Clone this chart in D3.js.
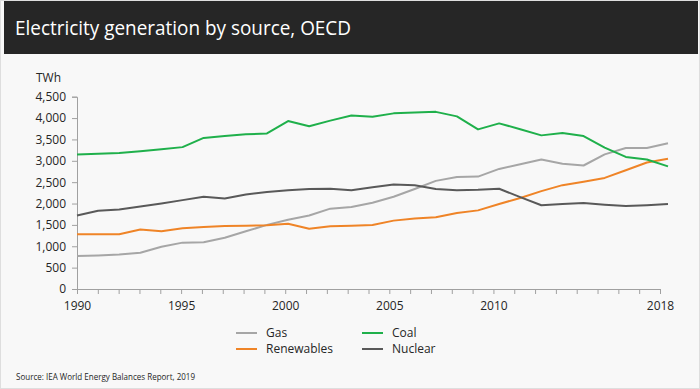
<!DOCTYPE html>
<html>
<head>
<meta charset="utf-8">
<script src="https://cdn.jsdelivr.net/npm/d3@7"></script>
<style>
  html, body { margin: 0; padding: 0; background: #f8f8f8; }
  svg { display: block; font-family: "Open Sans", "Noto Sans", sans-serif; }
</style>
</head>
<body>
<div id="chart"></div>
<script>
const years = d3.range(1990, 2019);
const gas = [770, 785, 805, 850, 990, 1085, 1095, 1200, 1350, 1500, 1620, 1720, 1880, 1920, 2020, 2160, 2340, 2530, 2620, 2630, 2810, 2920, 3030, 2930, 2890, 3150, 3300, 3300, 3410];
const renewables = [1280, 1280, 1280, 1390, 1350, 1420, 1450, 1475, 1480, 1490, 1525, 1410, 1470, 1480, 1500, 1600, 1650, 1680, 1780, 1840, 1990, 2130, 2290, 2430, 2510, 2600, 2780, 2960, 3050];
const coal = [3150, 3165, 3185, 3225, 3270, 3320, 3535, 3580, 3620, 3640, 3930, 3810, 3940, 4060, 4030, 4110, 4130, 4145, 4040, 3735, 3875, 3740, 3595, 3650, 3580, 3310, 3090, 3030, 2870];
const nuclear = [1720, 1830, 1860, 1930, 2000, 2080, 2160, 2120, 2210, 2270, 2310, 2340, 2345, 2310, 2380, 2445, 2430, 2340, 2310, 2320, 2345, 2150, 1960, 1990, 2010, 1970, 1940, 1960, 1990];

const seriesNames = ["Gas", "Renewables", "Coal", "Nuclear"];
const seriesValues = [gas, renewables, coal, nuclear];
const seriesColors = ["#a6a6a6", "#ef8427", "#1fb04b", "#595959"];

const yTicks = d3.range(0, 4501, 500);
const xLabelYears = [1990, 1995, 2000, 2005, 2010, 2018];

const title = "Electricity generation by source, OECD";
const unitLabel = "TWh";
const source = "Source: IEA World Energy Balances Report, 2019";

const width = 700;
const height = 389;

const svg = d3.select("#chart").append("svg")
    .attr("width", width)
    .attr("height", height);

// background + frame
svg.append("rect")
    .attr("x", 0.5).attr("y", 0.5)
    .attr("width", width - 1).attr("height", height - 1)
    .attr("fill", "#f8f8f8")
    .attr("stroke", "#dedede");

// title bar
svg.append("rect")
    .attr("x", 4).attr("y", 1)
    .attr("width", width - 6).attr("height", 53)
    .attr("fill", "#262626");
svg.append("text")
    .attr("x", 15).attr("y", 35)
    .attr("fill", "#ffffff")
    .attr("font-size", 20)
    .attr("textLength", 336)
    .attr("lengthAdjust", "spacingAndGlyphs")
    .text(title);

const x = d3.scaleLinear().domain([1990, 2018]).range([77, 660]);
// plotted series run a little past the last tick, as in the source chart
const xLine = d3.scaleLinear().domain([1990, 2018]).range([77, 668]);
const y = d3.scaleLinear().domain([0, 4500]).range([289, 96.7]);

// y axis
const gy = svg.append("g")
    .attr("transform", `translate(${x(1990)},0)`)
    .call(d3.axisLeft(y).tickValues(yTicks).tickSize(5).tickPadding(6).tickFormat(d3.format(",")));
gy.selectAll("path, line").attr("stroke", "#a0a0a0");
gy.selectAll("text").attr("font-size", 12).attr("fill", "#262626").attr("font-family", "Open Sans");

svg.append("text")
    .attr("x", 36).attr("y", 82)
    .attr("font-size", 12)
    .attr("fill", "#262626")
    .text(unitLabel);

// x axis
const gx = svg.append("g")
    .attr("transform", `translate(0,${y(0)})`)
    .call(d3.axisBottom(x).tickValues(years).tickSize(5).tickPadding(7).tickSizeOuter(0)
        .tickFormat(d => xLabelYears.includes(d) ? d : ""));
gx.selectAll("path, line").attr("stroke", "#a0a0a0");
gx.selectAll("text").attr("font-size", 12).attr("fill", "#262626").attr("font-family", "Open Sans");

// lines
const line = d3.line()
    .x((d, i) => xLine(years[i]))
    .y(d => y(d));

svg.append("g").selectAll("path")
    .data(seriesValues)
    .join("path")
    .attr("fill", "none")
    .attr("stroke", (d, i) => seriesColors[i])
    .attr("stroke-width", 2)
    .attr("stroke-linejoin", "round")
    .attr("d", d => line(d));

// legend
const legendPos = [[236, 333], [236, 349], [362, 333], [362, 349]];
const legend = svg.append("g").selectAll("g")
    .data(seriesNames)
    .join("g")
    .attr("transform", (d, i) => `translate(${legendPos[i][0]},${legendPos[i][1]})`);
legend.append("line")
    .attr("x1", 0).attr("x2", 21)
    .attr("stroke", (d, i) => seriesColors[i])
    .attr("stroke-width", 2);
legend.append("text")
    .attr("x", 30).attr("dy", "0.35em")
    .attr("font-size", 12)
    .attr("fill", "#262626")
    .text(d => d);

// source
svg.append("text")
    .attr("x", 16).attr("y", 380)
    .attr("font-size", 8.5)
    .attr("fill", "#262626")
    .attr("textLength", 179)
    .attr("lengthAdjust", "spacingAndGlyphs")
    .text(source);
</script>
</body>
</html>
